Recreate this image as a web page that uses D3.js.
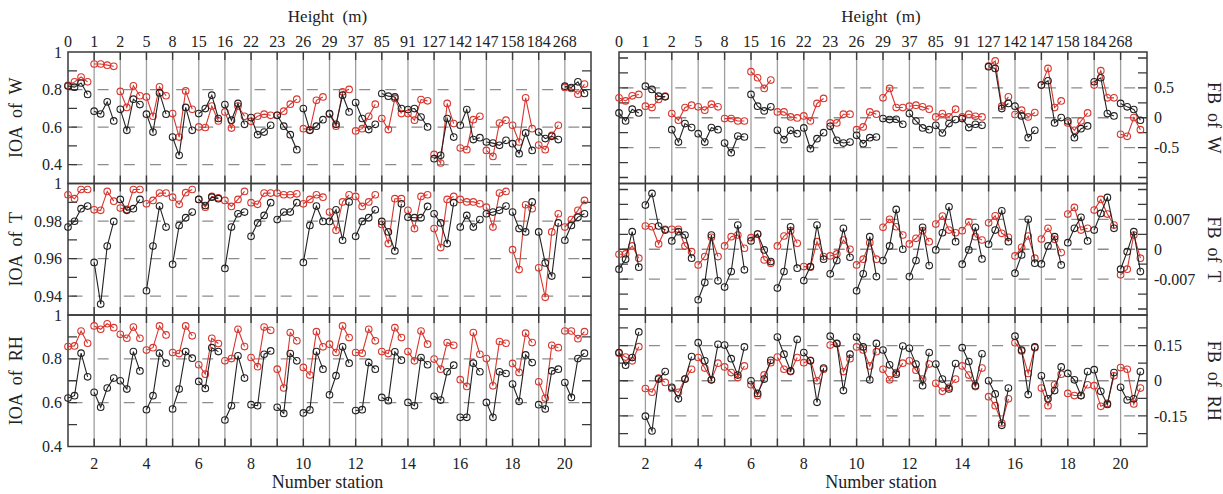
<!DOCTYPE html>
<html><head><meta charset="utf-8">
<script src="https://cdn.jsdelivr.net/npm/d3@7"></script>
<style>
body{margin:0;background:#fff}
svg{display:block}
text{font-family:"Liberation Serif","Times New Roman",serif;fill:#222}
</style>
</head><body>
<svg id="c" width="1223" height="494"></svg>
<script>
// ---------- data ----------
const heights = ["0","1","2","5","8","15","16","22","23","26","29","37","85","91","127","142","147","158","184","268"];
const stationTicks = [2,4,6,8,10,12,14,16,18,20];

// black series = A, red series = B ; 20 stations x 4 values
const ioaW_A = [[0.819,0.813,0.835,0.774],[0.685,0.670,0.735,0.633],[0.695,0.583,0.749,0.720],[0.669,0.574,0.782,0.669],[0.547,0.450,0.705,0.583],[0.672,0.699,0.770,0.646],[0.720,0.637,0.726,0.615],[0.651,0.560,0.574,0.610],[0.663,0.605,0.560,0.480],[0.699,0.583,0.605,0.640],[0.672,0.615,0.770,0.681],[0.731,0.646,0.587,0.615],[0.779,0.765,0.761,0.699],[0.694,0.699,0.654,0.601],[0.432,0.450,0.646,0.547],[0.610,0.694,0.534,0.544],[0.521,0.515,0.503,0.530],[0.512,0.459,0.569,0.476],[0.574,0.539,0.551,0.534],[0.818,0.811,0.841,0.779]];
const ioaW_B = [[0.822,0.841,0.867,0.841],[0.936,0.936,0.930,0.924],[0.790,0.705,0.820,0.767],[0.761,0.658,0.815,0.767],[0.672,0.547,0.793,0.695],[0.601,0.598,0.712,0.633],[0.681,0.595,0.712,0.658],[0.631,0.658,0.669,0.663],[0.663,0.685,0.722,0.749],[0.592,0.585,0.743,0.761],[0.669,0.605,0.788,0.801],[0.580,0.592,0.658,0.722],[0.646,0.587,0.753,0.672],[0.672,0.637,0.747,0.740],[0.455,0.409,0.726,0.619],[0.489,0.480,0.640,0.658],[0.476,0.444,0.622,0.637],[0.610,0.521,0.756,0.592],[0.505,0.480,0.556,0.610],[0.811,0.806,0.775,0.829]];
const ioaT_A = [[0.9768,0.9799,0.9866,0.988],[0.958,0.9358,0.9667,0.9798],[0.9915,0.9857,0.9866,0.9915],[0.9429,0.9667,0.988,0.9768],[0.957,0.9777,0.9818,0.9848],[0.9915,0.9883,0.9927,0.9919],[0.9548,0.9768,0.9839,0.9848],[0.9719,0.979,0.983,0.9898],[0.9808,0.9848,0.9848,0.9898],[0.958,0.9777,0.988,0.9798],[0.9798,0.986,0.9698,0.9902],[0.9719,0.9798,0.9818,0.986],[0.9798,0.9742,0.9641,0.9892],[0.9821,0.9818,0.9818,0.9878],[0.9839,0.979,0.968,0.9898],[0.9768,0.983,0.9768,0.9808],[0.9839,0.9848,0.9857,0.988],[0.9848,0.976,0.9742,0.9902],[0.9742,0.9577,0.9507,0.979],[0.9698,0.9777,0.9821,0.9839]];
const ioaT_B = [[0.994,0.9919,0.9968,0.9968],[0.986,0.9857,0.9958,0.9906],[0.9869,0.9862,0.9968,0.9968],[0.9892,0.991,0.9949,0.9949],[0.9927,0.9889,0.9951,0.9968],[0.9915,0.9874,0.9931,0.9924],[0.991,0.9878,0.9915,0.9958],[0.9898,0.9889,0.9949,0.9949],[0.9949,0.994,0.994,0.9945],[0.9892,0.9915,0.994,0.9927],[0.9848,0.9751,0.9902,0.994],[0.9931,0.9878,0.9902,0.994],[0.9782,0.968,0.9919,0.9919],[0.9857,0.976,0.9931,0.994],[0.976,0.9659,0.9915,0.9931],[0.9915,0.9902,0.9902,0.9892],[0.9874,0.9768,0.9949,0.9958],[0.9648,0.9542,0.9887,0.9866],[0.9551,0.9394,0.9742,0.9839],[0.9768,0.9808,0.9857,0.991]];
const ioaRH_A = [[0.621,0.632,0.826,0.718],[0.647,0.579,0.667,0.712],[0.700,0.662,0.833,0.745],[0.568,0.632,0.826,0.780],[0.571,0.662,0.833,0.803],[0.697,0.665,0.851,0.833],[0.521,0.586,0.814,0.712],[0.591,0.586,0.821,0.836],[0.579,0.551,0.824,0.791],[0.553,0.567,0.833,0.753],[0.636,0.723,0.855,0.780],[0.564,0.568,0.783,0.753],[0.624,0.609,0.832,0.794],[0.601,0.586,0.806,0.773],[0.629,0.612,0.741,0.771],[0.533,0.533,0.780,0.741],[0.601,0.533,0.741,0.733],[0.685,0.606,0.818,0.783],[0.591,0.571,0.745,0.753],[0.692,0.624,0.801,0.826]];
const ioaRH_B = [[0.856,0.859,0.927,0.871],[0.950,0.935,0.960,0.942],[0.912,0.894,0.945,0.894],[0.840,0.851,0.950,0.909],[0.829,0.824,0.950,0.905],[0.773,0.730,0.894,0.870],[0.791,0.801,0.935,0.856],[0.806,0.764,0.945,0.930],[0.753,0.667,0.920,0.882],[0.761,0.726,0.924,0.855],[0.867,0.829,0.950,0.897],[0.829,0.826,0.935,0.882],[0.833,0.824,0.942,0.897],[0.833,0.791,0.927,0.867],[0.799,0.753,0.874,0.862],[0.705,0.674,0.920,0.821],[0.801,0.677,0.879,0.871],[0.779,0.738,0.917,0.874],[0.695,0.621,0.862,0.851],[0.927,0.927,0.892,0.924]];
const fbW_A = [[0.08,-0.054,0.143,0.08],[0.529,0.474,0.361,0.35],[-0.199,-0.407,-0.098,-0.165],[-0.266,-0.407,-0.165,-0.199],[-0.423,-0.585,-0.306,-0.322],[0.39,0.193,0.115,0.182],[-0.21,-0.366,-0.21,-0.266],[-0.171,-0.518,-0.35,-0.249],[-0.143,-0.378,-0.423,-0.407],[-0.294,-0.434,-0.333,-0.322],[-0.014,-0.031,-0.025,-0.109],[0.07,-0.054,-0.171,-0.199],[-0.126,-0.255,-0.098,-0.031],[-0.014,-0.165,-0.109,-0.126],[0.854,0.826,0.154,0.239],[0.193,0.03,-0.333,-0.21],[0.546,0.619,-0.087,0.003],[-0.054,-0.333,-0.182,-0.137],[0.602,0.669,0.07,0.03],[0.239,0.182,0.138,-0.042]];
const fbW_B = [[0.333,0.282,0.366,0.39],[0.193,0.171,0.306,0.361],[0.07,-0.042,0.171,0.21],[0.182,0.126,0.227,0.182],[-0.014,-0.014,-0.054,-0.054],[0.77,0.669,0.49,0.63],[0.098,0.098,0.014,-0.003],[0.03,-0.054,0.239,0.323],[-0.087,-0.087,0.059,0.059],[-0.199,-0.154,0.098,0.059],[0.333,0.49,0.171,0.171],[0.193,0.21,0.182,0.143],[0.014,0.07,0.014,0.143],[0.014,0.059,0.025,0.014],[0.866,0.95,0.193,0.35],[0.054,0.126,0.014,0.087],[0.546,0.826,0.171,0.282],[-0.087,-0.21,-0.054,0.081],[0.546,0.787,0.333,0.333],[-0.277,-0.311,0.003,-0.199]];
const fbT_A = [[-0.00467,-0.00233,0.00411,-0.0042],[0.01034,0.01307,0.00544,0.0045],[0.00194,0.00411,0.00334,-0.0021],[-0.01183,-0.0078,0.00334,-0.0074],[-0.00887,-0.00523,0.00567,-0.00483],[0.00194,0.00357,-0.00016,-0.00289],[-0.0091,-0.00523,0.00527,-0.00443],[-0.00733,-0.00406,0.00567,-0.00233],[-0.00576,-0.00266,0.0049,-0.00187],[-0.00973,-0.00576,0.00294,-0.0064],[-0.00266,0.00077,0.00933,0],[-0.0064,-0.00266,0.00513,-0.00383],[-0.00016,0.00387,0.00994,0.00177],[-0.0035,-0.00016,0.00513,-0.00226],[0.00117,0.0045,0.009,0.00177],[-0.0056,-0.00133,0.007,-0.00327],[-0.00343,0.00077,0.00294,-0.00366],[0.00154,0.0049,0.00747,0.00194],[0.0045,0.0084,0.01213,0.0049],[-0.00467,-0.00056,0.00411,-0.00523]];
const fbT_B = [[-0.00117,-0.0011,0.00077,-0.0021],[0.00544,0.00527,0.00124,0.00467],[0.00467,0.00467,0.00077,-0.00056],[-0.00366,-0.00172,0.0028,-0.00172],[0.00077,0.00294,0.00334,0.00023],[0.0027,0.00357,-0.0025,-0.00327],[0.00077,0.0031,0.00434,0.0014],[-0.00406,-0.0042,0.00177,-0.00172],[-0.00156,-0.0011,0.00217,0],[-0.00366,-0.00233,0.00154,-0.00233],[0.00513,0.007,0.00527,0.00334],[0.00124,0.00257,0.00434,0.00177],[0.0059,0.00777,0.0045,0.00387],[0.00434,0.00644,0.00294,0.00217],[0.0062,0.00784,0.00373,0.0028],[-0.00156,0.00047,0.0031,-0.0021],[0.0024,0.0049,0.00233,-0.00079],[0.00824,0.0098,0.0045,0.0049],[0.00917,0.01167,0.00824,0.00567],[-0.006,-0.00467,0.00334,-0.0021]];
const fbRH_A = [[0.120,0.066,0.099,0.208],[-0.151,-0.214,0.007,0.039],[-0.028,-0.077,0.007,0.103],[0.162,0.085,0.004,0.155],[0.152,0.094,0.024,0.144],[0,-0.054,0.007,0.087],[0.186,0.113,0.042,0.176],[0.120,0.085,-0.092,0.054],[0.190,0.159,-0.042,0.113],[0.186,0.144,0.004,0.159],[0.131,0.068,0.028,0.148],[0.138,0.071,-0.021,0.120],[0.071,0.007,-0.035,0.073],[0.141,0.082,-0.021,0.115],[0,-0.056,-0.190,-0.031],[0.190,0.131,-0.059,0.144],[0.021,-0.077,-0.042,0.059],[0.031,0.004,-0.063,0.039],[0.047,-0.045,-0.101,0.035],[-0.028,-0.082,-0.077,0.039]];
const fbRH_B = [[0.117,0.101,0.085,0.145],[-0.033,-0.049,0.011,-0.007],[-0.033,-0.049,0.007,0.049],[0.099,0.054,0.004,0.075],[0.059,0.035,0.014,0.063],[-0.017,-0.063,0.025,0.077],[0.101,0.049,0.039,0.099],[0.077,0.087,0,0.049],[0.152,0.158,0.039,0.094],[0.144,0.131,0.063,0.124],[0.049,0.004,0.035,0.075],[0.085,0.045,0.007,0.071],[-0.011,-0.045,-0.028,0.007],[0.063,0.024,-0.025,0.054],[-0.068,-0.106,-0.180,-0.077],[0.162,0.127,0.031,0.141],[-0.031,-0.106,-0.017,0.028],[-0.054,-0.063,-0.063,-0.017],[-0.021,-0.109,-0.096,0.021],[0.056,0.049,-0.099,-0.031]];

const ioaW_ticks = [0.4,0.6,0.8,1], ioaT_ticks = [0.94,0.96,0.98,1], ioaRH_ticks = [0.4,0.6,0.8,1];
const fbW_ticks = [-0.5,0,0.5], fbT_ticks = [-0.007,0,0.007], fbRH_ticks = [-0.15,0,0.15];

// ---------- layout ----------
const svg = d3.select("#c");
const bands = [[52,183.5],[183.5,315],[315,446.5]];
const charts = [
  {x0:68, x1:591, side:"left", panels:[
    {A:ioaW_A,B:ioaW_B,dom:[0.3,1],step:0.1,ticks:ioaW_ticks,fmt:d3.format("~g"),title:"IOA  of  W"},
    {A:ioaT_A,B:ioaT_B,dom:[0.93,1],step:0.01,ticks:ioaT_ticks,fmt:d3.format("~g"),title:"IOA  of  T"},
    {A:ioaRH_A,B:ioaRH_B,dom:[0.4,1],step:0.1,ticks:ioaRH_ticks,fmt:d3.format("~g"),title:"IOA  of  RH"}]},
  {x0:619, x1:1147, side:"right", panels:[
    {A:fbW_A,B:fbW_B,dom:[-1.1,1.1],step:0.25,ticks:fbW_ticks,fmt:d3.format("~g"),title:"FB  of  W"},
    {A:fbT_A,B:fbT_B,dom:[-0.0154,0.0154],step:0.0035,ticks:fbT_ticks,fmt:d3.format("~g"),title:"FB  of  T"},
    {A:fbRH_A,B:fbRH_B,dom:[-0.28,0.28],step:0.075,ticks:fbRH_ticks,fmt:d3.format("~g"),title:"FB  of  RH"}]}
];
const COL_A = "#222", COL_B = "#d8362e";
const FRAME = "#3a3a3a";

charts.forEach(ch => {
  const x = d3.scaleLinear().domain([1,21]).range([ch.x0, ch.x1]);
  const cw = x(2) - x(1);
  const g = svg.append("g");
  const mid = (ch.x0 + ch.x1)/2;

  ch.panels.forEach((p, pi) => {
    const [top, bot] = bands[pi];
    const y = d3.scaleLinear().domain(p.dom).range([bot, top]);
    const pg = g.append("g");

    pg.selectAll(".vl").data(d3.range(2,21)).join("line")
      .attr("x1", d=>x(d)).attr("x2", d=>x(d)).attr("y1", top).attr("y2", bot)
      .attr("stroke", "#9e9e9e").attr("stroke-width", 1.3);
    pg.selectAll(".xt").data(d3.range(2,21)).join("path")
      .attr("d", d=>`M${x(d)},${top}v8M${x(d)},${bot}v-8`)
      .attr("stroke", FRAME).attr("stroke-width", 1.4);

    const grid = p.ticks.filter(t => y(t) > top + 1 && y(t) < bot - 1);
    pg.selectAll(".hg").data(grid).join("line")
      .attr("x1", ch.x0).attr("x2", ch.x1).attr("y1", d=>y(d)).attr("y2", d=>y(d))
      .attr("stroke", "#8c8c8c").attr("stroke-width", 1.3)
      .attr("stroke-dasharray", `11,${(cw-11).toFixed(2)}`).attr("stroke-dashoffset", -3.5);

    const k0 = Math.ceil(p.dom[0]/p.step - 1e-6), k1 = Math.floor(p.dom[1]/p.step + 1e-6);
    const minors = d3.range(k0, k1+1).map(k => k*p.step).filter(v => y(v) > top + 1 && y(v) < bot - 1);
    pg.selectAll(".yt").data(minors).join("path")
      .attr("d", d=>`M${ch.x0},${y(d)}h9M${ch.x1},${y(d)}h-9`)
      .attr("stroke", FRAME).attr("stroke-width", 1.3);

    pg.append("rect").attr("x", ch.x0).attr("y", top).attr("width", ch.x1-ch.x0).attr("height", bot-top)
      .attr("fill", "none").attr("stroke", FRAME).attr("stroke-width", 1.5);

    const lab = pg.selectAll(".yl").data(p.ticks).join("text")
      .attr("y", d=>y(d)).attr("dy", "0.35em").attr("font-size", 16)
      .text(d => p.fmt(d).replace("−","-"));
    if (ch.side === "left") lab.attr("x", ch.x0 - 6).attr("text-anchor", "end");
    else lab.attr("x", ch.x1 + 7).attr("text-anchor", "start");

    const cy = (top+bot)/2;
    if (ch.side === "left")
      pg.append("text").attr("transform", `translate(22,${cy}) rotate(-90)`).attr("text-anchor","middle")
        .attr("font-size", 18).style("white-space","pre").text(p.title);
    else
      pg.append("text").attr("transform", `translate(1208,${cy}) rotate(90)`).attr("text-anchor","middle")
        .attr("font-size", 18).style("white-space","pre").text(p.title);

    [[p.B, COL_B], [p.A, COL_A]].forEach(([ser, col]) => {
      ser.forEach((vals, si) => {
        const pts = vals.map((v, k) => [x(si + 1 + k*0.25), y(v)]);
        pg.append("path").attr("d", d3.line()(pts)).attr("fill","none")
          .attr("stroke", col).attr("stroke-width", 1.1);
        pg.selectAll(null).data(pts).join("circle")
          .attr("cx", d=>d[0]).attr("cy", d=>d[1]).attr("r", 3.3)
          .attr("fill", "none").attr("stroke", col).attr("stroke-width", 1.1);
      });
    });
  });

  g.selectAll(".hl").data(heights).join("text")
    .attr("x", (d,i)=>x(i+1)).attr("y", 47).attr("text-anchor","middle").attr("font-size", 16).text(d=>d);
  g.append("text").attr("x", mid - 2).attr("y", 22).attr("text-anchor","middle").attr("font-size", 17)
    .style("white-space","pre").text("Height  (m)");
  g.selectAll(".sl").data(stationTicks).join("text")
    .attr("x", d=>x(d)).attr("y", 469).attr("text-anchor","middle").attr("font-size", 16).text(d=>d);
  g.append("text").attr("x", mid - 2).attr("y", 488).attr("text-anchor","middle").attr("font-size", 18)
    .text("Number station");
});
</script>
</body></html>
